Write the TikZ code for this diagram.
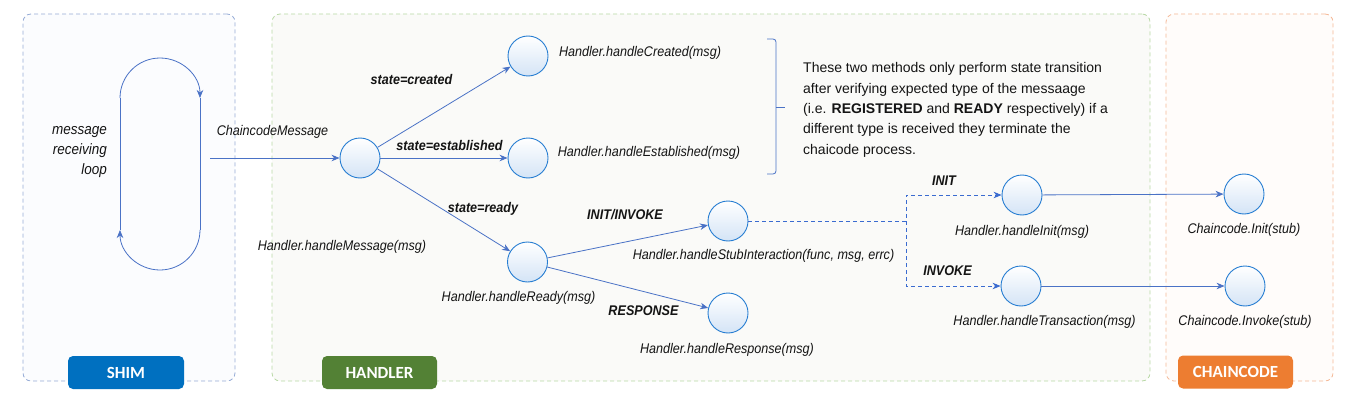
\documentclass[tikz,border=0pt]{standalone}
\usepackage{fontspec}
\setmainfont{Liberation Sans}
\newfontfamily\tabfont{Carlito}
\newfontfamily\lblfont[FakeStretch=0.9]{Liberation Sans}
\usetikzlibrary{arrows.meta}
\definecolor{arrowblue}{RGB}{74,114,198}
\definecolor{circborder}{RGB}{38,125,210}
\definecolor{circfill}{RGB}{212,228,246}
\definecolor{dashblue}{RGB}{58,107,208}
\definecolor{shimborder}{RGB}{150,172,214}
\definecolor{shimfill}{RGB}{251,252,254}
\definecolor{handborder}{RGB}{184,216,165}
\definecolor{handfill}{RGB}{250,250,248}
\definecolor{ccborder}{RGB}{245,184,150}
\definecolor{ccfill}{RGB}{255,252,250}
\definecolor{shimtab}{RGB}{0,112,192}
\definecolor{handtab}{RGB}{83,129,53}
\definecolor{cctab}{RGB}{237,125,49}
\definecolor{txt}{RGB}{20,20,20}
\tikzset{
  container/.style={rectangle, rounded corners=8pt, line width=0.8pt, dash pattern=on 4pt off 3pt, minimum height=367pt, inner sep=0pt},
  tab/.style={rectangle, rounded corners=5pt, minimum width=115pt, minimum height=33pt, inner sep=0pt, text=white, font=\tabfont\fontsize{17}{20}\selectfont\bfseries},
  circnode/.style={circle, minimum size=40pt, inner sep=0pt, draw=circborder, line width=0.9pt, top color=white, bottom color=circfill},
  lbl/.style={inner sep=0pt, text=txt, font=\lblfont\fontsize{14}{16}\selectfont\itshape},
  elbl/.style={inner sep=0pt, text=txt, font=\lblfont\fontsize{14}{16}\selectfont\bfseries\itshape},
  arr/.style={draw=arrowblue, line width=0.8pt, -{Stealth[length=8pt,width=6.5pt,inset=2.5pt]}},
  dasharr/.style={arr, draw=dashblue, dash pattern=on 4pt off 3pt},
  plainline/.style={draw=arrowblue, line width=0.8pt}
}
\begin{document}
\begin{tikzpicture}[x=1pt,y=-1pt]
\useasboundingbox (0,0) rectangle (1354,412);
% containers
\node[container, draw=shimborder, fill=shimfill, minimum width=212pt] (shimbox) at (129,197.5) {};
\node[container, draw=handborder, fill=handfill, minimum width=878pt] (handbox) at (711,197.5) {};
\node[container, draw=ccborder, fill=ccfill, minimum width=167pt] (ccbox) at (1249.5,197.5) {};
\node[tab, fill=shimtab, minimum width=116pt] (shimtab) at (126,372.5) {SHIM};
\node[tab, fill=handtab] (handtab) at (379.5,372.5) {HANDLER};
\node[tab, fill=cctab] (cctab) at (1235.5,372) {CHAINCODE};
% loop
\coordinate (lt) at (120,98);
\coordinate (rt) at (200,98);
\coordinate (rb) at (200,230);
\coordinate (lb) at (120,230);
\draw[arr] (lt) arc[start angle=180, end angle=360, radius=40];
\draw[plainline] (rt) -- (rb);
\draw[arr] (rb) arc[start angle=0, end angle=180, radius=40];
\draw[plainline] (lb) -- (lt);
\node[lbl, align=right, anchor=east, font=\lblfont\fontsize{15}{20}\selectfont\itshape] (looplbl) at (107,152) {message\\receiving\\loop};
% circles
\node[circnode] (M) at (360,158) {};
\node[circnode] (C) at (528,56) {};
\node[circnode] (E) at (528,158) {};
\node[circnode] (R) at (527.5,262) {};
\node[circnode] (S) at (728,221) {};
\node[circnode] (P) at (728,313) {};
\node[circnode] (I) at (1022,195) {};
\node[circnode] (T) at (1021,286) {};
\node[circnode] (CI) at (1244,194) {};
\node[circnode] (CV) at (1245,286) {};
% connectors
\coordinate (cmstart) at (210,158);
\draw[arr] (cmstart) -- (M);
\draw[arr] (M) -- (C);
\draw[arr] (M) -- (E);
\draw[arr] (M) -- (R);
\draw[arr] (R) -- (S);
\draw[arr] (R) -- (P);
\coordinate (jn) at (906,221);
\draw[dasharr] (S) -- (jn) |- (I);
\draw[dasharr] (jn) |- (T);
\draw[arr] (I) -- (CI);
\draw[arr] (T) -- (CV);
% labels
\node[lbl] (cmlbl) at (272.5,132) {ChaincodeMessage};
\node[lbl] (Mlbl) at (342,247) {Handler.handleMessage(msg)};
\node[lbl] (Clbl) at (640,53) {Handler.handleCreated(msg)};
\node[lbl] (Elbl) at (649,153) {Handler.handleEstablished(msg)};
\node[lbl] (Rlbl) at (518.5,298) {Handler.handleReady(msg)};
\node[lbl] (Slbl) at (763.5,256) {Handler.handleStubInteraction(func, msg, errc)};
\node[lbl] (Plbl) at (727,350) {Handler.handleResponse(msg)};
\node[lbl] (Ilbl) at (1022,232) {Handler.handleInit(msg)};
\node[lbl] (Tlbl) at (1044.5,322) {Handler.handleTransaction(msg)};
\node[lbl] (CIlbl) at (1244,230) {Chaincode.Init(stub)};
\node[lbl] (CVlbl) at (1245,322) {Chaincode.Invoke(stub)};
\node[elbl] (e1) at (411.5,79) {state=created};
\node[elbl] (e2) at (449.5,145) {state=established};
\node[elbl] (e3) at (483,209) {state=ready};
\node[elbl] (e4) at (625,215) {INIT/INVOKE};
\node[elbl] (e5) at (643.5,311) {RESPONSE};
\node[elbl] (e6) at (944,181) {INIT};
\node[elbl] (e7) at (947.5,271) {INVOKE};
% brace and note
\draw[plainline, rounded corners=3pt] (767,39) -- (776,39) -- (776,174) -- (767,174);
\draw[plainline] (776,107) -- (785,107);
\node[inner sep=0pt, anchor=north west, align=left, text=txt, font=\fontsize{14}{20.3}\selectfont] (note) at (803,62.5) {These two methods only perform state transition\\after verifying expected type of the messaage\\(i.e. \textbf{REGISTERED} and \textbf{READY} respectively) if a\\different type is received they terminate the\\chaicode process.};
\end{tikzpicture}
\end{document}
